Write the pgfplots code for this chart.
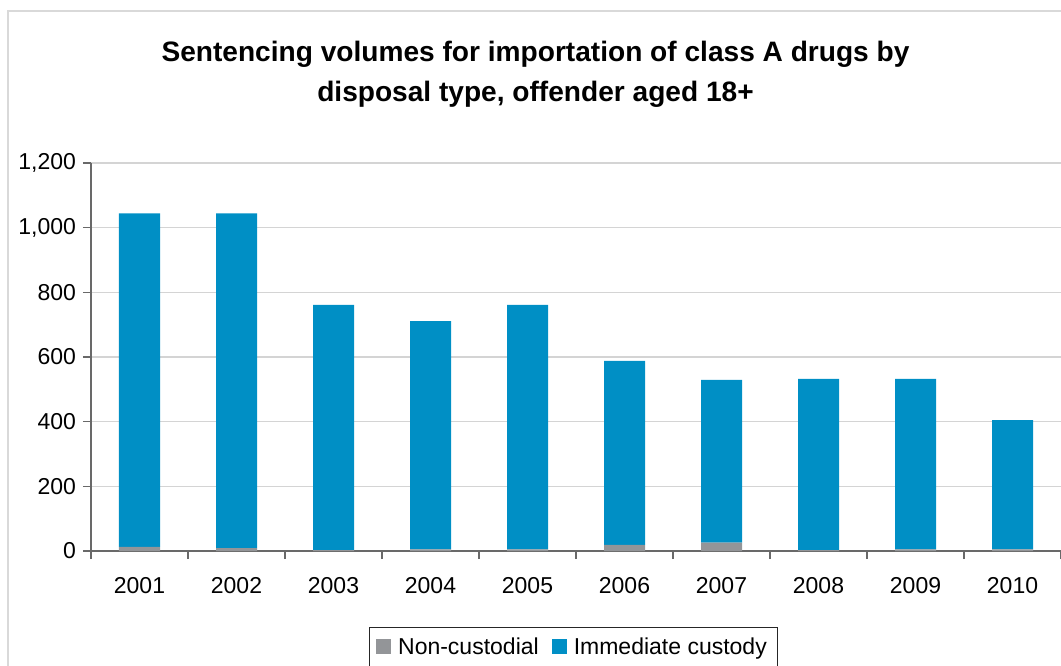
\documentclass[border=0pt]{standalone}
\usepackage{fontspec}
\setmainfont{Liberation Sans}
\usepackage{pgfplots}
\pgfplotsset{compat=1.18}
\definecolor{ncgrey}{RGB}{147,149,152}
\definecolor{icblue}{RGB}{0,143,197}
\definecolor{gridc}{RGB}{212,212,212}
\definecolor{axc}{RGB}{105,105,105}
\definecolor{framec}{RGB}{217,217,217}
\begin{document}
\begin{tikzpicture}
\useasboundingbox (0,0) rectangle (530.5pt,332.5pt);
\draw[framec, line width=0.6pt] (4pt,-5pt) -- (4pt,327pt) -- (540pt,327pt);
\node[align=center, font=\fontsize{14.05}{20}\selectfont\bfseries] at (267.75pt,295.5pt) {Sentencing volumes for importation of class A drugs by\\disposal type, offender aged 18+};
\begin{axis}[
  at={(45.5pt,57pt)}, anchor=south west,
  scale only axis, width=485pt, height=194pt,
  xmin=-0.5, xmax=9.5, ymin=0, ymax=1200,
  ybar stacked, bar width=20.5pt,
  axis x line=bottom, axis y line=left,
  axis line style={-, draw=axc, line width=0.8pt},
  tick align=outside, major tick length=4pt,
  tick style={draw=axc, line width=0.8pt},
  xtick={-0.5,0.5,...,9.5}, x tick label as interval,
  xticklabels={2001,2002,2003,2004,2005,2006,2007,2008,2009,2010},
  x tick label style={yshift=-5.5pt},
  ytick={0,200,...,1200},
  ymajorgrids, grid style={draw=gridc, line width=0.8pt},
  tick label style={font=\fontsize{11.5}{13}\selectfont},
  /pgf/number format/.cd, 1000 sep={,}, assume math mode=true,
  /pgfplots/.cd,
  legend style={at={(0.4974,-0.196)}, anchor=north, legend columns=2,
    draw=black!85, line width=0.6pt, font=\fontsize{11.5}{13}\selectfont,
    inner xsep=3.5pt, inner ysep=3pt,
    /tikz/every odd column/.append style={column sep=1.5pt},
    /tikz/every even column/.append style={column sep=4.5pt}},
]
\addplot[fill=ncgrey, draw=none, legend image code/.code={\fill[ncgrey] (0pt,-3.5pt) rectangle (7.5pt,4pt);}] coordinates {
  (0,13) (1,9) (2,3) (3,5) (4,5) (5,19) (6,26) (7,3) (8,5) (9,5)};
\addplot[fill=icblue, draw=none, legend image code/.code={\fill[icblue] (0pt,-3.5pt) rectangle (7.5pt,4pt);}] coordinates {
  (0,1031) (1,1035) (2,758) (3,706) (4,756) (5,569) (6,503) (7,529) (8,527) (9,400)};
\legend{Non-custodial, Immediate custody}
\end{axis}
\end{tikzpicture}
\end{document}
